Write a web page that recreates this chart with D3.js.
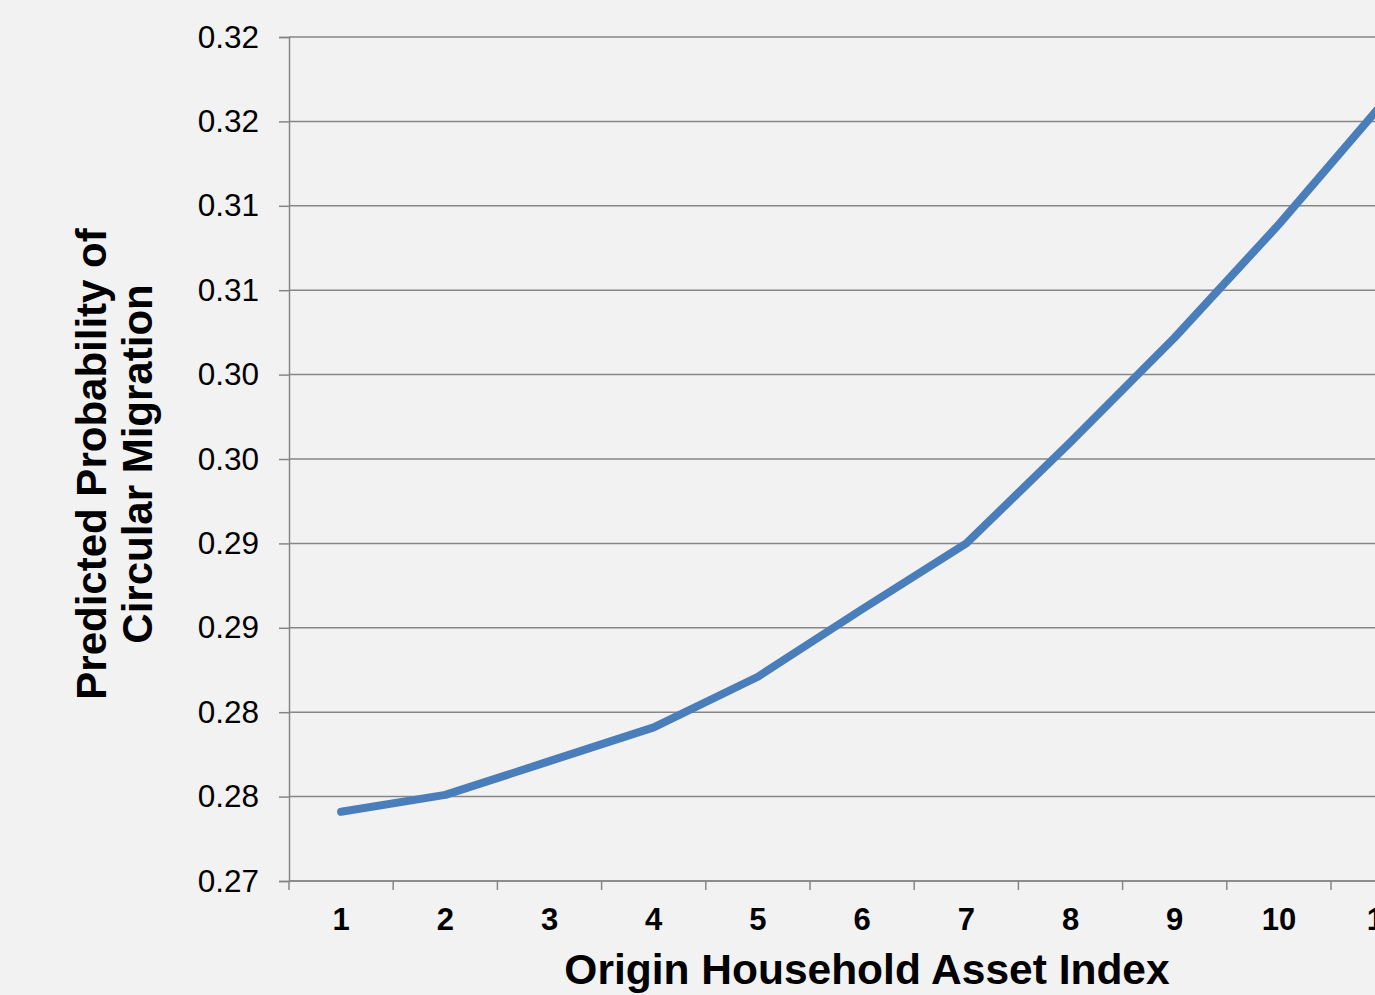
<!DOCTYPE html>
<html>
<head>
<meta charset="utf-8">
<script src="https://cdn.jsdelivr.net/npm/d3@7"></script>
<style>
  html, body { margin: 0; padding: 0; background: #f2f2f2; overflow: hidden; }
  svg { display: block; font-family: "Liberation Sans", Arial, sans-serif; }
</style>
</head>
<body>
<div id="chart"></div>
<script>
// asset index categories
const categories = ["1", "2", "3", "4", "5", "6", "7", "8", "9", "10", "11"]
// predicted probability
const probability = [0.2741, 0.2751, 0.2771, 0.2791, 0.2821, 0.2861, 0.2900, 0.2960, 0.3022, 0.3089, 0.3161]
// y ticks (steps of 0.005) and the labels printed at them
const yTickValues = [0.270, 0.275, 0.280, 0.285, 0.290, 0.295, 0.300, 0.305, 0.310, 0.315, 0.320]
const yTickLabels = ["0.27", "0.28", "0.28", "0.29", "0.29", "0.30", "0.30", "0.31", "0.31", "0.32", "0.32"]

const width = 1375
const height = 995
const margin = { top: 37, left: 289, bottom: 114 }
const step = 104.2

const svg = d3.select("#chart")
              .append("svg")
              .attr("width", width)
              .attr("height", height)

// x axis, category bands (plot runs past the right edge of the picture)
const x = d3.scaleBand()
            .domain(categories)
            .range([margin.left, margin.left + step * categories.length])

// y axis
const y = d3.scaleLinear()
            .domain([0.27, 0.32])
            .range([height - margin.bottom, margin.top])

const gridColor = "#868686"

// horizontal gridlines
svg.append("g")
   .selectAll("line")
   .data(yTickValues)
   .join("line")
   .attr("x1", margin.left)
   .attr("x2", width)
   .attr("y1", d => y(d))
   .attr("y2", d => y(d))
   .attr("stroke", gridColor)
   .attr("stroke-width", 1.5)

// y axis
const yAxis = g => g.attr("transform", `translate(${margin.left},0)`)
                    .call(d3.axisLeft(y)
                            .tickValues(yTickValues)
                            .tickFormat((d, i) => yTickLabels[i])
                            .tickSize(10)
                            .tickPadding(20))
                    .call(g => g.select(".domain").attr("stroke", gridColor).attr("stroke-width", 1.5))
                    .call(g => g.selectAll(".tick line").attr("stroke", gridColor).attr("stroke-width", 1.5))
                    .call(g => g.selectAll(".tick text")
                                .attr("font-size", 31.5)
                                .attr("fill", "#000")
                                .attr("font-family", "Liberation Sans, Arial, sans-serif"))

// x axis, ticks on the band boundaries
const xAxis = g => {
  g.attr("transform", `translate(0,${y(0.27)})`)
  g.append("line")
   .attr("x1", margin.left).attr("x2", margin.left + step * categories.length)
   .attr("stroke", gridColor).attr("stroke-width", 1.5)
  g.selectAll(".tk")
   .data(categories.concat(["end"]))
   .join("line")
   .attr("class", "tk")
   .attr("x1", (d, i) => margin.left + i * step)
   .attr("x2", (d, i) => margin.left + i * step)
   .attr("y1", 0).attr("y2", 9)
   .attr("stroke", gridColor).attr("stroke-width", 1.5)
  g.selectAll(".lbl")
   .data(categories)
   .join("text")
   .attr("class", "lbl")
   .attr("x", d => x(d) + x.bandwidth() / 2)
   .attr("y", 49)
   .attr("text-anchor", "middle")
   .attr("font-size", 31)
   .attr("font-weight", "bold")
   .text(d => d)
}

svg.append("g").call(yAxis)
svg.append("g").call(xAxis)

// the line
const line = d3.line()
               .x((d, i) => x(categories[i]) + x.bandwidth() / 2)
               .y(d => y(d))

svg.append("path")
   .datum(probability)
   .attr("d", line)
   .attr("fill", "none")
   .attr("stroke", "#4a7ebb")
   .attr("stroke-width", 8)
   .attr("stroke-linecap", "round")
   .attr("stroke-linejoin", "round")

// axis titles
svg.append("text")
   .attr("x", 867)
   .attr("y", 984)
   .attr("text-anchor", "middle")
   .attr("font-size", 42.5)
   .attr("font-weight", "bold")
   .text("Origin Household Asset Index")

const yTitle = svg.append("text")
                  .attr("transform", "translate(106,464) rotate(-90)")
                  .attr("text-anchor", "middle")
                  .attr("font-size", 42)
                  .attr("font-weight", "bold")
yTitle.append("tspan").attr("x", 0).attr("y", 0).text("Predicted Probability of")
yTitle.append("tspan").attr("x", 0).attr("y", 46).text("Circular Migration")
</script>
</body>
</html>
